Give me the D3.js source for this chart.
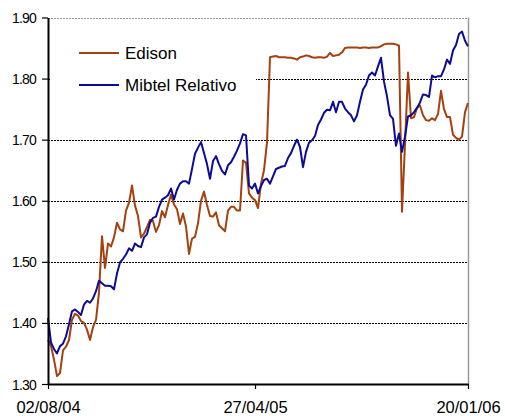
<!DOCTYPE html>
<html>
<head>
<meta charset="utf-8">
<script src="https://cdn.jsdelivr.net/npm/d3@7"></script>
<style>
  html, body { margin: 0; padding: 0; background: #fff; }
  svg { display: block; }
  text { font-family: "Liberation Sans", Arial, sans-serif; fill: #000; }
</style>
</head>
<body>
<svg id="chart" width="505" height="416"></svg>
<script>
// ---- data (one point every ~3.8 calendar days, 02/08/04 .. 20/01/06) ----
const seriesNames = ["Edison", "Mibtel Relativo"];
const edison = [
  1.372,1.362,1.340,1.313,1.318,1.355,1.361,1.372,1.405,1.415,
  1.412,1.403,1.400,1.389,1.372,1.393,1.405,1.450,1.542,1.490,
  1.530,1.525,1.540,1.564,1.553,1.550,1.584,1.597,1.625,1.592,
  1.575,1.540,1.546,1.557,1.569,1.567,1.549,1.560,1.583,1.573,
  1.593,1.610,1.594,1.586,1.562,1.579,1.558,1.513,1.538,1.541,
  1.563,1.600,1.615,1.593,1.575,1.574,1.581,1.560,1.555,1.550,
  1.584,1.590,1.590,1.584,1.584,1.666,1.662,1.612,1.605,1.601,
  1.588,1.628,1.650,1.695,1.835,1.836,1.837,1.835,1.835,1.835,
  1.834,1.834,1.833,1.831,1.835,1.836,1.838,1.837,1.835,1.834,
  1.835,1.835,1.834,1.836,1.842,1.837,1.838,1.839,1.843,1.850,
  1.851,1.851,1.851,1.851,1.850,1.851,1.851,1.850,1.851,1.851,
  1.851,1.853,1.856,1.857,1.857,1.857,1.856,1.854,1.582,1.693,
  1.810,1.735,1.737,1.752,1.756,1.740,1.732,1.731,1.735,1.732,
  1.742,1.780,1.750,1.737,1.737,1.708,1.703,1.700,1.705,1.745,
  1.760
];
const mibtel = [
  1.408,1.368,1.357,1.350,1.362,1.366,1.378,1.398,1.419,1.422,
  1.418,1.413,1.430,1.436,1.433,1.440,1.452,1.469,1.465,1.461,
  1.461,1.460,1.455,1.481,1.499,1.505,1.512,1.522,1.518,1.530,
  1.526,1.524,1.540,1.545,1.564,1.572,1.574,1.590,1.602,1.605,
  1.609,1.620,1.602,1.618,1.628,1.632,1.632,1.628,1.652,1.677,
  1.687,1.696,1.678,1.660,1.636,1.665,1.673,1.660,1.649,1.643,
  1.658,1.663,1.672,1.682,1.694,1.709,1.707,1.625,1.620,1.628,
  1.612,1.624,1.634,1.636,1.628,1.640,1.652,1.654,1.656,1.657,
  1.670,1.678,1.690,1.700,1.688,1.655,1.680,1.695,1.699,1.706,
  1.724,1.733,1.744,1.749,1.748,1.762,1.745,1.762,1.762,1.751,
  1.745,1.740,1.730,1.740,1.762,1.782,1.790,1.805,1.810,1.805,
  1.820,1.834,1.795,1.771,1.740,1.734,1.690,1.710,1.680,1.705,
  1.738,1.740,1.745,1.752,1.761,1.774,1.773,1.770,1.805,1.802,
  1.804,1.804,1.815,1.831,1.824,1.846,1.855,1.873,1.877,1.862,
  1.853
];
const xTickLabels = ["02/08/04", "27/04/05", "20/01/06"];
const xTickIndex = [0, 69, 140];
const yTicks = [1.30, 1.40, 1.50, 1.60, 1.70, 1.80, 1.90];
const colors = ["#A3420E", "#0B0B96"];

// ---- layout ----
const svg = d3.select("#chart");
const plotL = 48, plotR = 468, plotT = 17.5, plotB = 384;

const x = d3.scaleLinear().domain([0, edison.length - 1]).range([plotL, plotR]);
const y = d3.scaleLinear().domain([1.30, 1.90]).range([plotB, plotT]);

// gridlines 1.40..1.80 (black dashed); top 1.90 gray dotted
svg.append("g").selectAll("line")
  .data(yTicks.filter(v => v > 1.30 && v < 1.90))
  .join("line")
  .attr("x1", plotL).attr("x2", plotR)
  .attr("y1", d => Math.round(y(d)) + 0.5).attr("y2", d => Math.round(y(d)) + 0.5)
  .attr("stroke", "#000").attr("stroke-width", 1).attr("stroke-dasharray", "2,1");

svg.append("line")
  .attr("x1", plotL).attr("x2", plotR)
  .attr("y1", Math.round(y(1.90)) + 0.5).attr("y2", Math.round(y(1.90)) + 0.5)
  .attr("stroke", "#999").attr("stroke-width", 1).attr("stroke-dasharray", "2,1");

// right border gray
svg.append("line")
  .attr("x1", plotR + 0.5).attr("x2", plotR + 0.5)
  .attr("y1", y(1.90)).attr("y2", plotB)
  .attr("stroke", "#999").attr("stroke-width", 1.5);

// legend background (covers part of the 1.80 gridline)
svg.append("rect")
  .attr("x", plotL + 2).attr("y", 32).attr("width", 256 - plotL - 2).attr("height", 70)
  .attr("fill", "#fff");

// series lines
const series = [edison, mibtel];
const line = d3.line().x((d, i) => x(i)).y(d => y(d));
svg.append("g").selectAll("path")
  .data(series)
  .join("path")
  .attr("d", d => line(d))
  .attr("fill", "none")
  .attr("stroke", (d, i) => colors[i])
  .attr("stroke-width", 2)
  .attr("stroke-linejoin", "round");

// y axis
const yAxis = d3.axisLeft(y).tickValues(yTicks).tickFormat(d3.format(".2f"))
  .tickSizeInner(6).tickSizeOuter(0).tickPadding(6);
const gy = svg.append("g").attr("transform", `translate(${plotL},0)`).call(yAxis);
gy.select(".domain").attr("stroke", "#000").attr("stroke-width", 2);
gy.selectAll(".tick line").attr("stroke", "#000").attr("stroke-width", 1.2);
gy.selectAll(".tick text")
  .style("font-family", "'Liberation Sans', Arial, sans-serif")
  .style("font-size", "14px").style("letter-spacing", "-0.8px")
  .attr("fill", "#000").attr("x", -12).attr("dy", "0.36em");

// x axis
const xAxis = d3.axisBottom(x).tickValues(xTickIndex)
  .tickFormat((d, i) => xTickLabels[i]).tickSizeInner(5).tickSizeOuter(0).tickPadding(16);
const gx = svg.append("g").attr("transform", `translate(0,${plotB})`).call(xAxis);
gx.select(".domain").attr("stroke", "#000").attr("stroke-width", 2);
gx.selectAll(".tick line").attr("stroke", "#000").attr("stroke-width", 1.2);
gx.selectAll(".tick text")
  .style("font-family", "'Liberation Sans', Arial, sans-serif")
  .style("font-size", "16.5px").attr("fill", "#000").attr("y", 28.5).attr("dy", null);

// legend
const lg = svg.append("g");
const legY = [53, 85];
seriesNames.forEach((name, i) => {
  lg.append("line").attr("x1", 79).attr("x2", 119)
    .attr("y1", legY[i]).attr("y2", legY[i])
    .attr("stroke", colors[i]).attr("stroke-width", 2);
  lg.append("text").attr("x", 125).attr("y", legY[i] + 6)
    .style("font-size", "17px").text(name);
});
</script>
</body>
</html>
